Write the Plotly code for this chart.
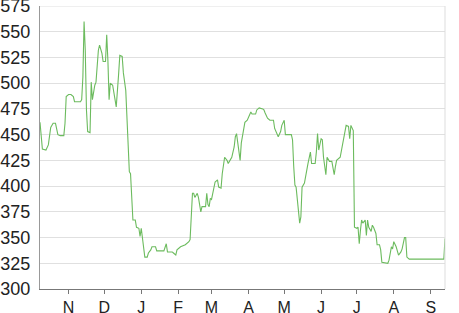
import plotly.graph_objects as go

dates = [
    "2013-10-08", "2013-10-10", "2013-10-13", "2013-10-15", "2013-10-17", "2013-10-19",
    "2013-10-21", "2013-10-22", "2013-10-23", "2013-10-25", "2013-10-28", "2013-10-29",
    "2013-10-30", "2013-11-01", "2013-11-03", "2013-11-05", "2013-11-06", "2013-11-11",
    "2013-11-12", "2013-11-13", "2013-11-14", "2013-11-15", "2013-11-16", "2013-11-17",
    "2013-11-19", "2013-11-20", "2013-11-21", "2013-11-23", "2013-11-24", "2013-11-26",
    "2013-11-27", "2013-11-29", "2013-11-30", "2013-12-02", "2013-12-03", "2013-12-04",
    "2013-12-05", "2013-12-06", "2013-12-08", "2013-12-10", "2013-12-11", "2013-12-13",
    "2013-12-14", "2013-12-16", "2013-12-17", "2013-12-19", "2013-12-20", "2013-12-21",
    "2013-12-22", "2013-12-23", "2013-12-24", "2013-12-25", "2013-12-27", "2013-12-28",
    "2013-12-30", "2013-12-31", "2014-01-01", "2014-01-02", "2014-01-03", "2014-01-04",
    "2014-01-06", "2014-01-07", "2014-01-09", "2014-01-10", "2014-01-13", "2014-01-14",
    "2014-01-20", "2014-01-22", "2014-01-23", "2014-01-27", "2014-01-28", "2014-01-30",
    "2014-01-31", "2014-02-03", "2014-02-07", "2014-02-10", "2014-02-11", "2014-02-12",
    "2014-02-13", "2014-02-14", "2014-02-15", "2014-02-17", "2014-02-18", "2014-02-20",
    "2014-02-21", "2014-02-24", "2014-02-25", "2014-02-26", "2014-02-27", "2014-02-28",
    "2014-03-01", "2014-03-04", "2014-03-06", "2014-03-07", "2014-03-09", "2014-03-10",
    "2014-03-12", "2014-03-14", "2014-03-15", "2014-03-16", "2014-03-18", "2014-03-20",
    "2014-03-21", "2014-03-22", "2014-03-24", "2014-03-25", "2014-03-26", "2014-03-28",
    "2014-03-29", "2014-03-31", "2014-04-03", "2014-04-04", "2014-04-07", "2014-04-08",
    "2014-04-10", "2014-04-13", "2014-04-14", "2014-04-15", "2014-04-17", "2014-04-19",
    "2014-04-22", "2014-04-23", "2014-04-25", "2014-04-26", "2014-04-28", "2014-04-29",
    "2014-05-01", "2014-05-02", "2014-05-07", "2014-05-08", "2014-05-09", "2014-05-10",
    "2014-05-11", "2014-05-12", "2014-05-14", "2014-05-15", "2014-05-16", "2014-05-18",
    "2014-05-20", "2014-05-21", "2014-05-23", "2014-05-24", "2014-05-27", "2014-05-28",
    "2014-05-29", "2014-05-30", "2014-06-01", "2014-06-02", "2014-06-03", "2014-06-05",
    "2014-06-06", "2014-06-08", "2014-06-10", "2014-06-12", "2014-06-13", "2014-06-14",
    "2014-06-17", "2014-06-18", "2014-06-19", "2014-06-21", "2014-06-22", "2014-06-24",
    "2014-06-25", "2014-06-26", "2014-06-27", "2014-06-28", "2014-06-29", "2014-07-01",
    "2014-07-02", "2014-07-03", "2014-07-04", "2014-07-05", "2014-07-06", "2014-07-08",
    "2014-07-09", "2014-07-10", "2014-07-11", "2014-07-13", "2014-07-14", "2014-07-15",
    "2014-07-17", "2014-07-18", "2014-07-20", "2014-07-21", "2014-07-22", "2014-07-27",
    "2014-07-28", "2014-07-29", "2014-07-30", "2014-07-31", "2014-08-01", "2014-08-03",
    "2014-08-04", "2014-08-05", "2014-08-07", "2014-08-08", "2014-08-10", "2014-08-11",
    "2014-08-12", "2014-08-14", "2014-09-12", "2014-09-13",
]

values = [
    462, 436, 435, 440, 457, 461,
    461, 453, 450, 449, 449, 461,
    487, 489, 489, 487, 482, 482,
    484, 506, 560, 532, 474, 453,
    452, 501, 484, 498, 501, 532,
    537, 529, 521, 521, 547, 522,
    484, 500, 498, 484, 477, 509,
    527, 526, 510, 493, 471, 445,
    414, 412, 393, 367, 367, 360,
    359, 351, 359, 351, 341, 331,
    331, 335, 338, 341, 341, 337,
    337, 344, 336, 336, 335, 333,
    338, 341, 343, 346, 348, 370,
    393, 393, 389, 393, 389, 375,
    380, 380, 393, 382, 380, 388,
    387, 404, 406, 399, 398, 412,
    428, 425, 422, 424, 428, 438,
    448, 451, 435, 425, 442, 458,
    462, 464, 472, 470, 470, 474,
    476, 475, 474, 471, 466, 464,
    464, 456, 451, 448, 453, 459,
    464, 450, 450, 445, 419, 401,
    399, 386, 364, 370, 399, 403,
    417, 422, 433, 422, 422, 433,
    451, 435, 446, 445, 428, 411,
    428, 424, 424, 411, 419, 425,
    428, 435, 442, 454, 459, 458,
    446, 459, 456, 454, 360, 359,
    360, 344, 357, 367, 364, 367,
    352, 367, 360, 356, 362, 360,
    354, 343, 343, 338, 326, 325,
    328, 336, 341, 339, 346, 341,
    338, 333, 336, 339, 350, 350,
    331, 329, 329, 349,
]

month_ticks = ["2013-11-01", "2013-12-01", "2014-01-01", "2014-02-01", "2014-03-01",
               "2014-04-01", "2014-05-01", "2014-06-01", "2014-07-01", "2014-08-01",
               "2014-09-01"]
month_labels = ["N", "D", "J", "F", "M", "A", "M", "J", "J", "A", "S"]
y_ticks = [300, 325, 350, 375, 400, 425, 450, 475, 500, 525, 550, 575]

fig = go.Figure()
fig.add_trace(go.Scatter(
    x=dates, y=values, mode="lines",
    line=dict(color="#6cbb5e", width=1.1),
    hoverinfo="skip",
))

fig.update_layout(
    width=459, height=313,
    margin=dict(l=40, r=14, t=6, b=24, autoexpand=False),
    paper_bgcolor="white", plot_bgcolor="white",
    showlegend=False,
    font=dict(family="Liberation Sans, Arial, sans-serif", color="#222", size=16),
    xaxis=dict(
        range=["2013-10-08", "2014-09-13"],
        tickmode="array", tickvals=month_ticks, ticktext=month_labels,
        showgrid=False, zeroline=False, automargin=False,
        showline=True, linecolor="#777", linewidth=1,
        ticks="outside", ticklen=4, tickcolor="#777",
        tickfont=dict(size=16),
    ),
    yaxis=dict(
        range=[300, 575],
        tickmode="array", tickvals=y_ticks,
        showgrid=True, gridcolor="#e0e0e0", gridwidth=1,
        zeroline=False, automargin=False,
        showline=True, linecolor="#999", linewidth=1,
        ticks="", ticklabelstandoff=5, ticklabeloverflow="allow",
        tickfont=dict(size=18),
    ),
    shapes=[
        dict(type="line", xref="paper", yref="paper", x0=1, x1=1, y0=0, y1=1,
             line=dict(color="#dddddd", width=1)),
        dict(type="line", xref="paper", yref="y", x0=0, x1=1, y0=575, y1=575,
             line=dict(color="#e0e0e0", width=1)),
    ],
)

fig.write_html("out.html")
